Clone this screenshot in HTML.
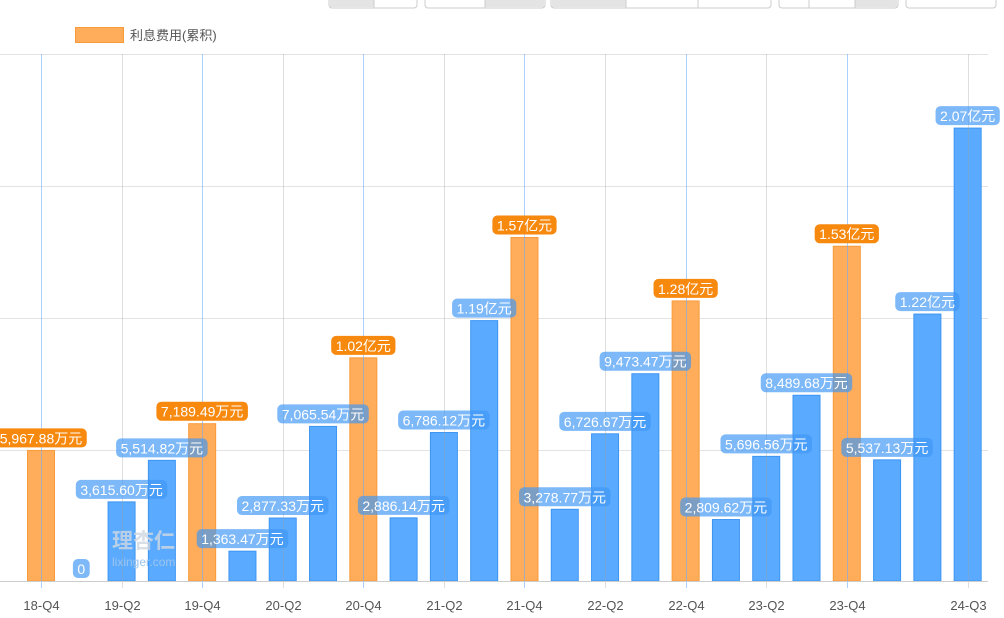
<!DOCTYPE html>
<html><head><meta charset="utf-8"><style>
html,body{margin:0;padding:0;background:#fff;width:1004px;height:618px;overflow:hidden}
svg{display:block;font-family:"Liberation Sans","Noto Sans CJK SC",sans-serif}
</style></head><body>
<svg id="s" width="1004" height="618" xmlns="http://www.w3.org/2000/svg">
<g fill="#fff" stroke="#ccc">
<rect x="329" y="-4" width="88" height="12" rx="3"/><rect x="425" y="-4" width="120" height="12" rx="3"/>
<rect x="551" y="-4" width="220" height="12" rx="3"/><rect x="779" y="-4" width="119" height="12" rx="3"/>
<rect x="906" y="-4" width="90" height="12" rx="3"/>
</g>
<g fill="#e4e4e4"><rect x="330" y="-3" width="44" height="10"/><rect x="485" y="-3" width="59" height="10"/><rect x="552" y="-3" width="74" height="10"/><rect x="855" y="-3" width="42" height="10"/></g>
<g stroke="#ccc"><line x1="374" y1="0" x2="374" y2="8"/><line x1="485" y1="0" x2="485" y2="8"/><line x1="626" y1="0" x2="626" y2="8"/><line x1="698" y1="0" x2="698" y2="8"/><line x1="809" y1="0" x2="809" y2="8"/><line x1="855" y1="0" x2="855" y2="8"/></g>
<rect x="75.5" y="27.5" width="48" height="15" fill="#ffad5a" stroke="#f99a3a"/>
<text x="130" y="40" font-size="13" fill="#555">利息费用(累积)</text>
<g stroke="#e3e3e3"><line x1="0" y1="54.5" x2="988" y2="54.5"/><line x1="0" y1="186.5" x2="988" y2="186.5"/><line x1="0" y1="318.5" x2="988" y2="318.5"/><line x1="0" y1="450.5" x2="988" y2="450.5"/></g>
<g id="bars"></g>
<g id="vl"></g>
<line x1="0" y1="581.5" x2="988" y2="581.5" stroke="#ccc"/>
<g id="ax" font-size="13" fill="#555" text-anchor="middle"></g>
<text x="112" y="548" font-size="21" fill="#d0d8e2" font-weight="bold" opacity="0.8">理杏仁</text>
<text x="112" y="566" font-size="12" fill="#9cc4ee">lixinger.com</text>
<g id="lb" font-size="14" fill="#fff" text-anchor="middle"></g>
</svg>
<script>
var v=[[5967.88,1,'5,967.88万元'],[0,0,'0'],[3615.60,0,'3,615.60万元'],[5514.82,0,'5,514.82万元'],[7189.49,1,'7,189.49万元'],[1363.47,0,'1,363.47万元'],[2877.33,0,'2,877.33万元'],[7065.54,0,'7,065.54万元'],[10200,1,'1.02亿元'],[2886.14,0,'2,886.14万元'],[6786.12,0,'6,786.12万元'],[11900,0,'1.19亿元'],[15700,1,'1.57亿元'],[3278.77,0,'3,278.77万元'],[6726.67,0,'6,726.67万元'],[9473.47,0,'9,473.47万元'],[12800,1,'1.28亿元'],[2809.62,0,'2,809.62万元'],[5696.56,0,'5,696.56万元'],[8489.68,0,'8,489.68万元'],[15300,1,'1.53亿元'],[5537.13,0,'5,537.13万元'],[12200,0,'1.22亿元'],[20700,0,'2.07亿元']];
var NS='http://www.w3.org/2000/svg';
function el(p,t,a,txt){var e=document.createElementNS(NS,t);for(var k in a)e.setAttribute(k,a[k]);if(txt!=null)e.textContent=txt;document.getElementById(p).appendChild(e);return e;}
function X(i){return 41+i*40.29;}
v.forEach(function(d,i){var h=d[0]*0.02188,x=X(i),top=581-h;
 if(h>0)el('bars','rect',{x:x-13.5,y:top,width:27,height:h,fill:d[1]?'#ffad5a':'#5aabff',stroke:d[1]?'#f99a3a':'#3d95f2','stroke-width':1});
 var t=el('lb','text',{x:x,y:top-7},d[2]);var w=t.getComputedTextLength()+9;
 var r=document.createElementNS(NS,'rect');r.setAttribute('x',x-w/2);r.setAttribute('y',top-22);r.setAttribute('width',w);r.setAttribute('height',19);r.setAttribute('rx',5);
 r.setAttribute('fill',d[1]?'#f7890f':'rgba(64,150,245,0.68)');t.parentNode.insertBefore(r,t);
});
var labs=['18-Q4','19-Q2','19-Q4','20-Q2','20-Q4','21-Q2','21-Q4','22-Q2','22-Q4','23-Q2','23-Q4'];
labs.forEach(function(l,j){var x=Math.round(X(j*2))+0.5;el('vl','line',{x1:x,y1:54,x2:x,y2:588,stroke:j%2?'rgba(160,160,160,0.35)':'rgba(100,170,255,0.55)'});el('ax','text',{x:x,y:610},l);});
var x=Math.round(X(23))+0.5;el('vl','line',{x1:x,y1:54,x2:x,y2:588,stroke:'rgba(160,160,160,0.35)'});el('ax','text',{x:x,y:610},'24-Q3');
</script>
</body></html>
